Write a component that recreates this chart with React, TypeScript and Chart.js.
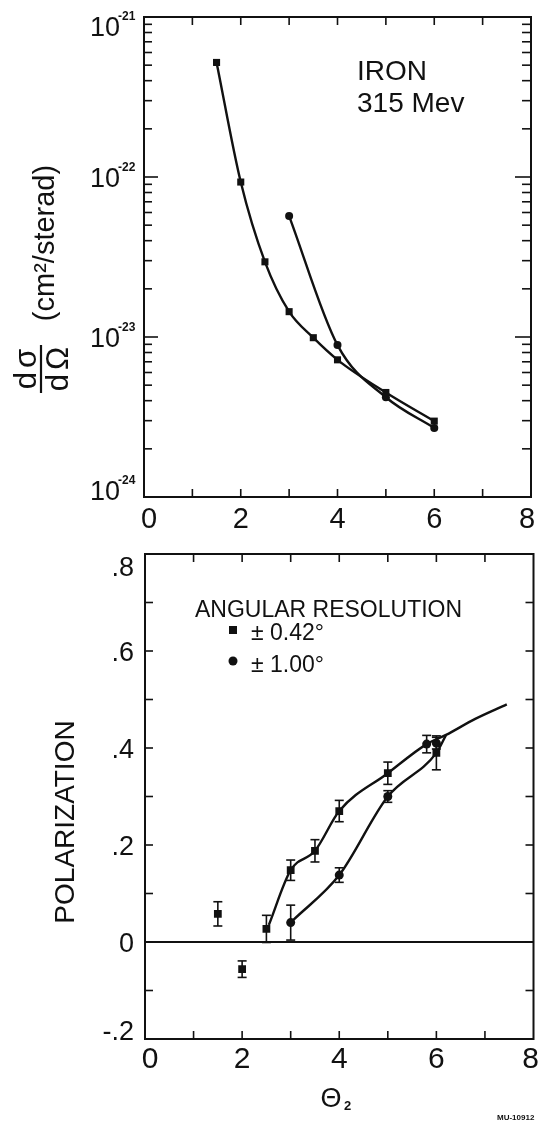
import React, { useEffect, useRef } from 'react';
import { Chart, registerables } from 'chart.js';

Chart.register(...registerables);

const FONT = '"Liberation Sans", Arial, sans-serif';
const INK = '#111111';

// ---- Top panel: differential cross section (cm^2/sterad) vs angle ----
const topAngleSquares = [1.5, 2, 2.5, 3, 3.5, 4, 5, 6];
const topSigmaSquares = [5.2e-22, 9.3e-23, 2.95e-23, 1.44e-23, 9.9e-24, 7.2e-24, 4.5e-24, 2.98e-24];
const topAngleCircles = [3, 4, 5, 6];
const topSigmaCircles = [5.7e-23, 8.9e-24, 4.2e-24, 2.7e-24];
const topXTickValues = [0, 2, 4, 6, 8];
const topXTickLabels = ['0', '2', '4', '6', '8'];
const topYTickExponents = [-21, -22, -23, -24];
const topYTickLabels = ['-21', '-22', '-23', '-24'];

// ---- Bottom panel: polarization vs angle ----
const polAngleSquares = [1.5, 2, 2.5, 3, 3.5, 4, 5, 6];
const polValueSquares = [0.058, -0.056, 0.027, 0.148, 0.188, 0.27, 0.348, 0.39];
const polErrorSquares = [0.025, 0.017, 0.028, 0.021, 0.023, 0.022, 0.023, 0.035];
const polAngleCircles = [3, 4, 5, 5.8, 6];
const polValueCircles = [0.04, 0.138, 0.3, 0.408, 0.41];
const polErrorCircles = [0.036, 0.015, 0.012, 0.018, 0.012];
const upperCurveAngle = [2.55, 3, 3.5, 4, 5, 5.8, 6.2, 6.8, 7.45];
const upperCurveValue = [0.035, 0.148, 0.188, 0.27, 0.348, 0.408, 0.427, 0.46, 0.49];
const lowerCurveAngle = [3.05, 4, 5, 6, 6.2];
const lowerCurveValue = [0.045, 0.138, 0.3, 0.39, 0.427];
const polXTickValues = [0, 2, 4, 6, 8];
const polXTickLabels = ['0', '2', '4', '6', '8'];
const polYTickValues = [0.8, 0.6, 0.4, 0.2, 0, -0.2];
const polYTickLabels = ['.8', '.6', '.4', '.2', '0', '-.2'];

const pts = (xs: number[], ys: number[]) => xs.map((x, i) => ({ x, y: ys[i] }));

function seg(ctx: CanvasRenderingContext2D, x1: number, y1: number, x2: number, y2: number) {
  ctx.beginPath();
  ctx.moveTo(x1, y1);
  ctx.lineTo(x2, y2);
  ctx.stroke();
}

function text(
  ctx: CanvasRenderingContext2D,
  s: string,
  x: number,
  y: number,
  size: number,
  align: CanvasTextAlign = 'left',
  weight = 'normal'
) {
  ctx.font = `${weight} ${size}px ${FONT}`;
  ctx.textAlign = align;
  ctx.textBaseline = 'alphabetic';
  ctx.fillStyle = INK;
  ctx.fillText(s, x, y);
}

const topPlugin = {
  id: 'topFrame',
  afterDraw(chart: any) {
    const ctx: CanvasRenderingContext2D = chart.ctx;
    const a = chart.chartArea;
    const xs = chart.scales.x;
    const ys = chart.scales.y;
    ctx.save();
    ctx.strokeStyle = INK;
    ctx.lineWidth = 2;
    ctx.strokeRect(a.left, a.top, a.right - a.left, a.bottom - a.top);
    ctx.lineWidth = 1.6;
    for (let v = 1; v < 8; v++) {
      const px = xs.getPixelForValue(v);
      seg(ctx, px, a.bottom, px, a.bottom - 8);
      seg(ctx, px, a.top, px, a.top + 8);
    }
    for (let e = -24; e < -21; e++) {
      for (let m = 1; m < 10; m++) {
        if (e === -24 && m === 1) continue;
        const py = ys.getPixelForValue(m * Math.pow(10, e));
        const major = m === 1;
        seg(ctx, a.left, py, a.left + (major ? 14 : 8), py);
        seg(ctx, a.right, py, a.right - (major ? 16 : 9), py);
      }
    }
    // x tick labels
    topXTickValues.forEach((v, i) => {
      let px = xs.getPixelForValue(v);
      if (i === 0) px += 5;
      if (i === topXTickValues.length - 1) px -= 4;
      text(ctx, topXTickLabels[i], px, 528, 29, 'center');
    });
    // y tick labels 10^n
    topYTickExponents.forEach((e, i) => {
      let py = ys.getPixelForValue(Math.pow(10, e));
      if (i === 0) py += 9;
      if (i === topYTickExponents.length - 1) py -= 7;
      text(ctx, '10', 120, py + 10, 27, 'right');
      text(ctx, topYTickLabels[i], 118, py - 6, 12, 'left', 'bold');
    });
    // y axis title
    ctx.save();
    ctx.translate(44, 243);
    ctx.rotate(-Math.PI / 2);
    text(ctx, '(cm²/sterad)', 0, 10, 29, 'center');
    ctx.restore();
    ctx.save();
    ctx.translate(41, 369);
    ctx.rotate(-Math.PI / 2);
    (ctx as any).letterSpacing = '4px';
    text(ctx, 'dσ', 2, -5, 31, 'center');
    text(ctx, 'dΩ', 2, 27, 31, 'center');
    (ctx as any).letterSpacing = '0px';
    ctx.lineWidth = 2.2;
    seg(ctx, -24, 0, 24, 0);
    ctx.restore();
    // annotation
    text(ctx, 'IRON', 357, 80, 28, 'left');
    text(ctx, '315 Mev', 357, 112, 28, 'left');
    ctx.restore();
  },
};

function drawErrorBars(ctx: CanvasRenderingContext2D, xs: any, ys: any, ax: number[], av: number[], ae: number[]) {
  ax.forEach((x, i) => {
    const px = xs.getPixelForValue(x);
    const y1 = ys.getPixelForValue(av[i] + ae[i]);
    const y2 = ys.getPixelForValue(av[i] - ae[i]);
    seg(ctx, px, y1, px, y2);
    seg(ctx, px - 4.5, y1, px + 4.5, y1);
    seg(ctx, px - 4.5, y2, px + 4.5, y2);
  });
}

const botPlugin = {
  id: 'botFrame',
  beforeDatasetsDraw(chart: any) {
    const ctx: CanvasRenderingContext2D = chart.ctx;
    const a = chart.chartArea;
    const xs = chart.scales.x;
    const ys = chart.scales.y;
    ctx.save();
    ctx.strokeStyle = INK;
    ctx.lineWidth = 2;
    const y0 = ys.getPixelForValue(0);
    seg(ctx, a.left, y0, a.right, y0);
    ctx.lineWidth = 1.6;
    drawErrorBars(ctx, xs, ys, polAngleSquares, polValueSquares, polErrorSquares);
    drawErrorBars(ctx, xs, ys, polAngleCircles, polValueCircles, polErrorCircles);
    ctx.restore();
  },
  afterDraw(chart: any) {
    const ctx: CanvasRenderingContext2D = chart.ctx;
    const a = chart.chartArea;
    const xs = chart.scales.x;
    const ys = chart.scales.y;
    ctx.save();
    ctx.strokeStyle = INK;
    ctx.lineWidth = 2;
    ctx.strokeRect(a.left, a.top, a.right - a.left, a.bottom - a.top);
    ctx.lineWidth = 1.6;
    for (let v = 1; v < 8; v++) {
      const px = xs.getPixelForValue(v);
      seg(ctx, px, a.bottom, px, a.bottom - 8);
      seg(ctx, px, a.top, px, a.top + 8);
    }
    for (let k = -1; k <= 7; k++) {
      const py = ys.getPixelForValue(k / 10);
      seg(ctx, a.left, py, a.left + 8, py);
      seg(ctx, a.right, py, a.right - 8, py);
    }
    polXTickValues.forEach((v, i) => {
      let px = xs.getPixelForValue(v);
      if (i === 0) px += 5;
      if (i === polXTickValues.length - 1) px -= 3;
      text(ctx, polXTickLabels[i], px, 1068 - 545, 30, 'center');
    });
    polYTickValues.forEach((v, i) => {
      let py = ys.getPixelForValue(v);
      if (i === 0) py += 12;
      if (i === polYTickValues.length - 1) py -= 9;
      text(ctx, polYTickLabels[i], 134, py + 10, 27, 'right');
    });
    // legend
    text(ctx, 'ANGULAR RESOLUTION', 195, 617 - 545, 23, 'left');
    ctx.fillStyle = INK;
    ctx.fillRect(229, 630 - 545 - 4, 8, 8);
    ctx.beginPath();
    ctx.arc(233, 661 - 545, 4.5, 0, Math.PI * 2);
    ctx.fill();
    text(ctx, '± 0.42°', 251, 640 - 545, 23, 'left');
    text(ctx, '± 1.00°', 251, 672 - 545, 23, 'left');
    // axis titles
    ctx.save();
    ctx.translate(64, 822 - 545);
    ctx.rotate(-Math.PI / 2);
    text(ctx, 'POLARIZATION', 0, 10, 28, 'center');
    ctx.restore();
    text(ctx, 'Θ', 331, 1107 - 545, 27, 'center');
    text(ctx, '2', 344, 1110 - 545, 13, 'left', 'bold');
    text(ctx, 'MU-10912', 497, 1120 - 545, 8, 'left', 'bold');
    ctx.restore();
  },
};

export default function App() {
  const topRef = useRef<HTMLCanvasElement>(null);
  const botRef = useRef<HTMLCanvasElement>(null);

  useEffect(() => {
    const base = {
      responsive: false,
      animation: false as const,
      devicePixelRatio: 1,
      events: [] as any[],
      plugins: { legend: { display: false }, tooltip: { enabled: false } },
    };
    const top = new Chart(topRef.current as HTMLCanvasElement, {
      type: 'scatter',
      data: {
        datasets: [
          {
            data: pts(topAngleSquares, topSigmaSquares),
            showLine: true,
            borderColor: INK,
            borderWidth: 2.4,
            pointStyle: 'rect',
            pointRadius: 5,
            pointBackgroundColor: INK,
            pointBorderWidth: 0,
            cubicInterpolationMode: 'monotone',
          } as any,
          {
            data: pts(topAngleCircles, topSigmaCircles),
            showLine: true,
            borderColor: INK,
            borderWidth: 2.4,
            pointStyle: 'circle',
            pointRadius: 4,
            pointBackgroundColor: INK,
            pointBorderWidth: 0,
            cubicInterpolationMode: 'monotone',
          } as any,
        ],
      },
      options: {
        ...base,
        layout: { padding: { left: 144, right: 8, top: 17, bottom: 48 } },
        scales: {
          x: { type: 'linear', min: 0, max: 8, display: false },
          y: { type: 'logarithmic', min: 1e-24, max: 1e-21, display: false },
        },
      } as any,
      plugins: [topPlugin],
    });

    const bot = new Chart(botRef.current as HTMLCanvasElement, {
      type: 'scatter',
      data: {
        datasets: [
          {
            data: pts(upperCurveAngle, upperCurveValue),
            showLine: true,
            borderColor: INK,
            borderWidth: 2.4,
            pointRadius: 0,
            cubicInterpolationMode: 'monotone',
          } as any,
          {
            data: pts(lowerCurveAngle, lowerCurveValue),
            showLine: true,
            borderColor: INK,
            borderWidth: 2.4,
            pointRadius: 0,
            cubicInterpolationMode: 'monotone',
          } as any,
          {
            data: pts(polAngleSquares, polValueSquares),
            showLine: false,
            pointStyle: 'rect',
            pointRadius: 5.5,
            pointBackgroundColor: INK,
            pointBorderWidth: 0,
          } as any,
          {
            data: pts(polAngleCircles, polValueCircles),
            showLine: false,
            pointStyle: 'circle',
            pointRadius: 4.5,
            pointBackgroundColor: INK,
            pointBorderWidth: 0,
          } as any,
        ],
      },
      options: {
        ...base,
        layout: { padding: { left: 145, right: 4, top: 9, bottom: 85 } },
        scales: {
          x: { type: 'linear', min: 0, max: 8, display: false },
          y: { type: 'linear', min: -0.2, max: 0.8, display: false },
        },
      } as any,
      plugins: [botPlugin],
    });

    return () => {
      top.destroy();
      bot.destroy();
    };
  }, []);

  return (
    <div style={{ position: 'absolute', left: 0, top: 0, width: 539, height: 1124, background: '#ffffff' }}>
      <canvas
        ref={topRef}
        width={539}
        height={545}
        style={{ position: 'absolute', left: 0, top: 0, width: 539, height: 545 }}
      />
      <canvas
        ref={botRef}
        width={539}
        height={579}
        style={{ position: 'absolute', left: 0, top: 545, width: 539, height: 579 }}
      />
    </div>
  );
}
